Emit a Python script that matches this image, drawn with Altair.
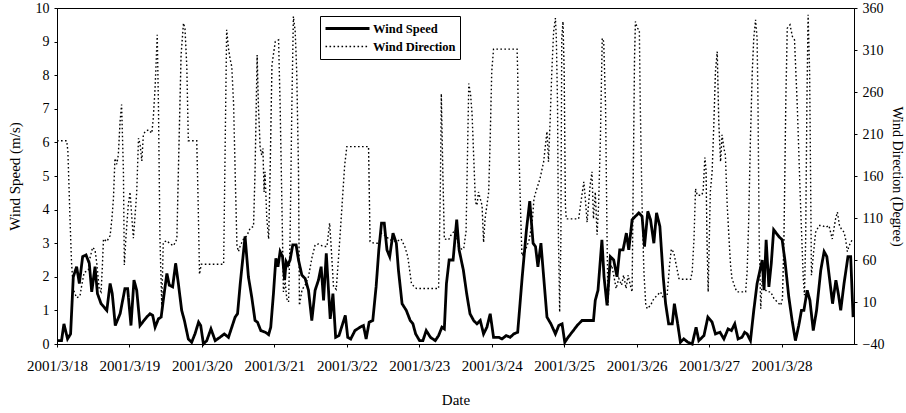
import altair as alt
import pandas as pd

FONT = "Liberation Serif"

# ---------------- data ----------------
# hours since 2001/3/18 00:00
speed_hours = [
    0, 1.5, 2.3, 3.5, 4.5, 5.4, 6.5, 7.4, 8.5, 9.6,
    10.7, 11.5, 12.6, 13.4, 14.6, 16.5, 17.6, 18.3, 19.3, 20.9,
    22.5, 23.4, 24.5, 25.5, 26.4, 27.5, 29.7, 30.8, 31.7, 32.5,
    33.6, 34.5, 35.2, 36.4, 37.2, 38.3, 39.3, 40.2, 41.3, 42.2,
    43.5, 44.6, 45.7, 46.9, 47.6, 48.5, 49.6, 51.0, 52.4, 54.0,
    55.4, 56.8, 57.9, 59.0, 59.8, 60.7, 62.3, 63.4, 64.5, 65.6,
    66.4, 67.5, 69.0, 70.1, 70.8, 71.7, 72.5, 73.2, 73.9, 74.7,
    75.4, 75.9, 76.5, 77.2, 78.1, 79.2, 80.0, 81.1, 82.2, 83.3,
    84.4, 85.5, 86.6, 87.5, 88.3, 89.2, 90.5, 91.4, 92.3, 93.4,
    95.5, 96.3, 97.3, 98.7, 100.4, 101.5, 102.4, 103.4, 104.6, 105.7,
    106.6, 107.5, 108.4, 109.3, 110.2, 111.3, 112.4, 113.1, 114.3, 115.7,
    117.0, 117.9, 118.8, 120.1, 121.2, 122.3, 123.7, 125.3, 126.4, 127.5,
    128.3, 129.0, 129.9, 131.2, 132.4, 133.2, 134.6, 135.7, 136.8, 138.0,
    139.1, 140.2, 141.3, 142.4, 143.5, 144.6, 146.3, 147.4, 148.8, 150.1,
    151.3, 152.6, 154.1, 155.5, 156.6, 157.7, 158.5, 159.3, 160.3, 161.2,
    162.3, 163.6, 165.1, 166.2, 167.3, 168.2, 169.3, 170.6, 172.3, 173.9,
    176.7, 177.7, 178.3, 179.2, 180.5, 181.2, 182.2, 183.3, 184.4, 185.5,
    186.4, 187.5, 188.6, 189.4, 190.5, 191.6, 192.7, 193.8, 194.6, 195.7,
    196.6, 197.7, 198.6, 199.7, 200.8, 201.6, 202.6, 203.8, 204.5, 205.6,
    206.5, 207.6, 209.0, 210.4, 211.7, 212.6, 214.3, 215.6, 217.0, 218.1,
    219.6, 220.9, 222.3, 223.4, 224.5, 225.6, 226.9, 227.8, 228.6, 229.7,
    230.8, 231.9, 233.6, 234.2, 234.9, 235.8, 236.6, 237.4, 239.1, 240.2,
    241.1, 242.4, 243.5, 244.6, 245.7, 246.6, 247.4, 248.5, 249.4, 250.5,
    251.6, 253.0, 254.1, 255.0, 256.1, 256.9, 258.0, 258.8, 259.6, 260.7,
    262.0, 262.9, 263.7,
]
speed_values = [
    0.1, 0.1, 0.6, 0.15, 0.3, 2.0, 2.3, 1.8, 2.6, 2.65,
    2.4, 1.55, 2.3, 1.5, 1.2, 1.0, 1.8, 1.5, 0.55, 0.9,
    1.65, 1.65, 0.55, 1.9, 1.6, 0.55, 0.8, 0.9, 0.85, 0.5,
    0.75, 0.8, 1.3, 2.1, 1.75, 1.7, 2.4, 1.8, 1.0, 0.7,
    0.15, 0.05, 0.3, 0.65, 0.55, 0.0, 0.1, 0.45, 0.1, 0.2,
    0.3, 0.2, 0.5, 0.8, 0.9, 1.8, 3.2, 2.0, 1.4, 0.7,
    0.65, 0.4, 0.35, 0.28, 0.5, 1.5, 2.55, 2.3, 2.75, 2.6,
    1.9, 2.45, 2.35, 2.5, 2.95, 2.95, 2.5, 2.05, 1.95, 1.6,
    0.7, 1.6, 1.9, 2.3, 1.3, 2.7, 0.75, 1.5, 0.2, 0.25,
    0.85, 0.2, 0.15, 0.4, 0.5, 0.55, 0.15, 0.65, 0.7, 1.7,
    2.8, 3.6, 3.6, 2.8, 2.6, 3.3, 3.0, 2.2, 1.2, 1.0,
    0.7, 0.6, 0.3, 0.1, 0.1, 0.4, 0.2, 0.1, 0.25, 0.5,
    0.45, 1.8, 2.5, 2.5, 3.7, 2.8, 2.2, 1.5, 0.9, 0.7,
    0.6, 0.7, 0.3, 0.5, 0.9, 0.2, 0.2, 0.15, 0.25, 0.2,
    0.3, 0.35, 2.0, 3.4, 4.25, 3.0, 2.9, 2.3, 3.0, 2.0,
    0.8, 0.6, 0.3, 0.55, 0.6, 0.05, 0.2, 0.35, 0.55, 0.7,
    0.7, 0.7, 1.3, 1.6, 3.1, 2.0, 1.15, 2.6, 2.5, 2.0,
    2.8, 2.8, 3.3, 2.8, 3.7, 3.8, 3.9, 3.8, 2.9, 3.95,
    3.7, 3.0, 3.9, 3.5, 2.0, 1.2, 0.6, 0.6, 1.2, 0.6,
    0.05, 0.15, 0.05, 0.0, 0.5, 0.1, 0.25, 0.8, 0.65, 0.3,
    0.35, 0.15, 0.45, 0.4, 0.6, 0.15, 0.2, 0.35, 0.3, 0.1,
    1.0, 1.8, 2.5, 1.6, 3.1, 1.7, 2.4, 3.4, 3.2, 3.1,
    2.5, 1.4, 0.7, 0.1, 0.55, 1.0, 1.0, 1.6, 1.3, 0.4,
    1.0, 2.2, 2.75, 2.6, 1.8, 1.2, 1.9, 1.5, 1.0, 1.8,
    2.6, 2.6, 0.8,
]

dir_hours = [
    0, 3.2, 3.6, 4.3, 4.8, 5.4, 6.5, 7.6, 8.2, 9.0,
    10.4, 10.9, 11.8, 12.6, 13.2, 14.0, 14.6, 15.0, 15.4, 16.5,
    17.6, 18.2, 18.7, 19.2, 19.8, 20.3, 20.9, 21.4, 22.0, 22.3,
    22.8, 23.6, 24.2, 24.8, 25.3, 25.6, 26.4, 27.0, 27.5, 28.1,
    28.6, 29.2, 30.3, 31.4, 31.9, 32.5, 33.2, 33.6, 34.1, 34.7,
    35.2, 36.4, 37.5, 38.6, 39.7, 40.2, 41.1, 41.9, 42.4, 43.0,
    43.5, 46.3, 46.8, 47.2, 47.8, 55.2, 56.2, 56.8, 57.3, 57.9,
    58.5, 59.0, 59.6, 60.1, 60.7, 61.8, 62.9, 64.0, 65.1, 65.6,
    66.3, 66.7, 67.3, 67.8, 68.2, 68.6, 68.9, 69.5, 70.1, 70.6,
    71.2, 72.3, 73.4, 73.9, 74.5, 75.0, 75.6, 76.1, 76.7, 77.2,
    77.8, 78.3, 78.9, 79.4, 80.0, 80.3, 81.2, 82.2, 83.3, 84.4,
    85.5, 86.6, 87.7, 88.3, 89.4, 90.3, 91.0, 91.6, 92.5, 93.3,
    94.4, 95.3, 96.0, 103.2, 103.7, 105.0, 106.6, 107.5, 109.1, 110.2,
    112.4, 114.0, 115.2, 116.2, 117.4, 118.6, 119.2, 126.4, 127.0, 127.3,
    127.8, 128.3, 129.7, 130.4, 131.9, 133.0, 134.0, 134.7, 135.5, 136.4,
    137.0, 137.5, 138.0, 138.6, 139.1, 139.6, 140.2, 140.8, 141.3, 141.8,
    142.4, 143.0, 143.5, 144.0, 144.6, 152.4, 152.6, 152.9, 153.5, 154.0,
    155.0, 156.5, 157.5, 158.0, 158.6, 160.0, 161.2, 161.8, 162.3, 162.8,
    163.3, 163.9, 164.5, 165.1, 165.4, 165.8, 166.1, 166.5, 166.9, 167.2,
    167.6, 168.0, 168.4, 168.7, 172.8, 173.4, 174.5, 175.0, 175.6, 176.6,
    177.2, 177.7, 178.3, 178.9, 179.4, 180.0, 180.6, 181.1, 181.7, 182.2,
    182.5, 183.0, 183.7, 184.4, 185.2, 186.1, 187.0, 187.7, 188.5, 189.2,
    189.9, 190.5, 190.9, 191.3, 191.6, 192.2, 192.9, 193.2, 193.8, 194.4,
    195.0, 195.5, 196.6, 197.7, 198.8, 199.9, 201.0, 202.1, 202.9, 203.5,
    204.3, 204.9, 206.0, 206.5, 209.9, 210.4, 211.0, 211.5, 212.1, 212.8,
    213.5, 214.0, 214.6, 215.0, 215.3, 215.7, 216.4, 217.0, 217.6, 218.1,
    218.7, 219.2, 219.8, 220.3, 220.9, 221.4, 222.0, 222.6, 223.1, 223.6,
    224.7, 225.3, 228.1, 228.6, 229.1, 229.7, 230.3, 230.8, 231.4, 231.9,
    232.2, 232.6, 233.1, 233.6, 234.2, 235.3, 236.4, 237.5, 238.6, 239.7,
    240.3, 240.8, 241.4, 241.9, 242.8, 243.6, 244.3, 245.2, 246.3, 247.2,
    247.6, 248.0, 248.4, 248.8, 249.3, 249.6, 249.9, 250.5, 251.3, 252.4,
    253.5, 254.6, 255.7, 256.8, 257.9, 258.5, 259.2, 259.8, 260.7, 261.2,
    261.8, 262.4, 263.5,
]
dir_values = [
    202, 202, 190, 110, 58, 25, 15, 17, 30, 45,
    48, 62, 75, 72, 55, 25, 22, 50, 85, 82,
    89, 110, 133, 181, 174, 185, 225, 245, 166, 54,
    85, 125, 141, 110, 86, 100, 140, 205, 198, 178,
    209, 213, 215, 211, 229, 265, 328, 245, 86, 6,
    81, 83, 79, 77, 85, 165, 304, 342, 335, 290,
    202, 202, 120, 43, 55, 55, 334, 312, 300, 290,
    245, 165, 77, 70, 77, 85, 89, 98, 100, 165,
    304, 245, 193, 185, 193, 141, 165, 109, 85, 165,
    292, 320, 322, 245, 125, 22, 34, 14, 10, 85,
    245, 350, 332, 284, 165, 6, 25, 30, 40, 62,
    78, 79, 77, 76, 76, 104, 65, 28, 25, 65,
    124, 173, 195, 195, 82, 80, 80, 92, 88, 84,
    82, 85, 76, 64, 32, 27, 26, 26, 150, 258,
    165, 85, 84, 89, 96, 76, 73, 73, 94, 270,
    257, 233, 185, 129, 125, 141, 133, 125, 81, 109,
    125, 141, 205, 284, 311, 311, 284, 205, 125, 65,
    70, 85, 109, 133, 141, 157, 177, 197, 213, 177,
    221, 284, 332, 348, 324, 245, 85, -2, 85, 324,
    344, 284, 125, 109, 109, 125, 153, 133, 105, 149,
    165, 109, 141, 90, 125, 205, 324, 320, 245, 85,
    6, 46, 54, 42, 26, 38, 30, 42, 26, 42,
    30, 22, 165, 300, 344, 336, 334, 245, 125, 46,
    8, 2, 6, 14, 18, 22, 14, 18, 54, 73,
    69, 58, 38, 37, 37, 46, 85, 145, 137, 137,
    137, 141, 182, 166, 85, 22, 141, 165, 225, 284,
    308, 225, 177, 209, 193, 185, 125, 85, 54, 38,
    26, 22, 22, 46, 105, 205, 284, 324, 346, 324,
    245, 85, 2, 38, 26, 22, 22, 14, 10, 6,
    14, 85, 245, 336, 340, 326, 322, 245, 125, 38,
    18, 85, 245, 352, 284, 165, 42, 65, 93, 101,
    101, 99, 101, 85, 109, 117, 101, 97, 93, 85,
    70, 77, 85,
]

series_names = ["Wind Speed", "Wind Direction"]
tick_days = [18, 19, 20, 21, 22, 23, 24, 25, 26, 27, 28]
speed_ticks = [0, 1, 2, 3, 4, 5, 6, 7, 8, 9, 10]
dir_ticks = [-40, 10, 60, 110, 160, 210, 260, 310, 360]

# ---------------- tables ----------------
base = pd.Timestamp("2001-03-18")
speed_df = pd.DataFrame({
    "time": base + pd.to_timedelta(speed_hours, unit="h"),
    "value": speed_values,
})
speed_df["series"] = series_names[0]
dir_df = pd.DataFrame({
    "time": base + pd.to_timedelta(dir_hours, unit="h"),
    "value": dir_values,
})
dir_df["series"] = series_names[1]

legend = alt.Legend(
    title=None, orient="none", legendX=263, legendY=8, direction="vertical",
    symbolType="stroke", symbolSize=1936, symbolStrokeColor="black",
    labelFont=FONT, labelFontSize=12.5, labelFontWeight="bold", labelColor="black",
    strokeColor="black", fillColor="white", padding=4, rowPadding=1,
    clipHeight=17, labelOffset=2,
)
dash = alt.StrokeDash("series:N", scale=alt.Scale(domain=series_names, range=[[1, 0], [1.6, 2.4]]), legend=legend)
swidth = alt.StrokeWidth("series:N", scale=alt.Scale(domain=series_names, range=[2.8, 1.4]), legend=legend)

x_enc = alt.X(
    "time:T",
    scale=alt.Scale(domain=[alt.DateTime(year=2001, month=3, date=18),
                            alt.DateTime(year=2001, month=3, date=29)]),
    axis=alt.Axis(
        title="Date", values=[alt.DateTime(year=2001, month=3, date=d) for d in tick_days],
        format="%Y/%-m/%-d", grid=False, tickSize=3, labelFontSize=15, titleFontSize=15,
        labelPadding=11, titlePadding=19, labelFlush=False, labelOverlap=False, labelBound=False,
    ),
)

speed = alt.Chart(speed_df).mark_line(color="black").encode(
    x=x_enc,
    y=alt.Y("value:Q", scale=alt.Scale(domain=[0, 10], nice=False),
            axis=alt.Axis(orient="left", title="Wind Speed (m/s)", values=speed_ticks, grid=False,
                          tickSize=3, labelFontSize=14, titleFontSize=15, labelPadding=5, titlePadding=13)),
    strokeDash=dash,
    strokeWidth=swidth,
)

direction = alt.Chart(dir_df).mark_line(color="black").encode(
    x=x_enc,
    y=alt.Y("value:Q", scale=alt.Scale(domain=[-40, 360], nice=False),
            axis=alt.Axis(orient="right", title="Wind Direction (Degree)", values=dir_ticks, grid=False,
                          tickSize=3, labelFontSize=14, titleFontSize=14, labelPadding=5, titlePadding=6)),
    strokeDash=dash,
    strokeWidth=swidth,
)

chart = (
    alt.layer(direction, speed)
    .resolve_scale(y="independent")
    .properties(
        width=797, height=336,
        padding={"left": 57, "top": 8, "right": 52, "bottom": 69},
        autosize=alt.AutoSizeParams(type="none"),
        background="white",
    )
    .configure_view(stroke="black", strokeWidth=1)
    .configure_axis(labelFont=FONT, titleFont=FONT, labelColor="black", titleColor="black",
                    domainColor="black", tickColor="black", titleFontWeight="normal")
)

chart.save("out.html", embed_options={"renderer": "svg", "actions": False})
